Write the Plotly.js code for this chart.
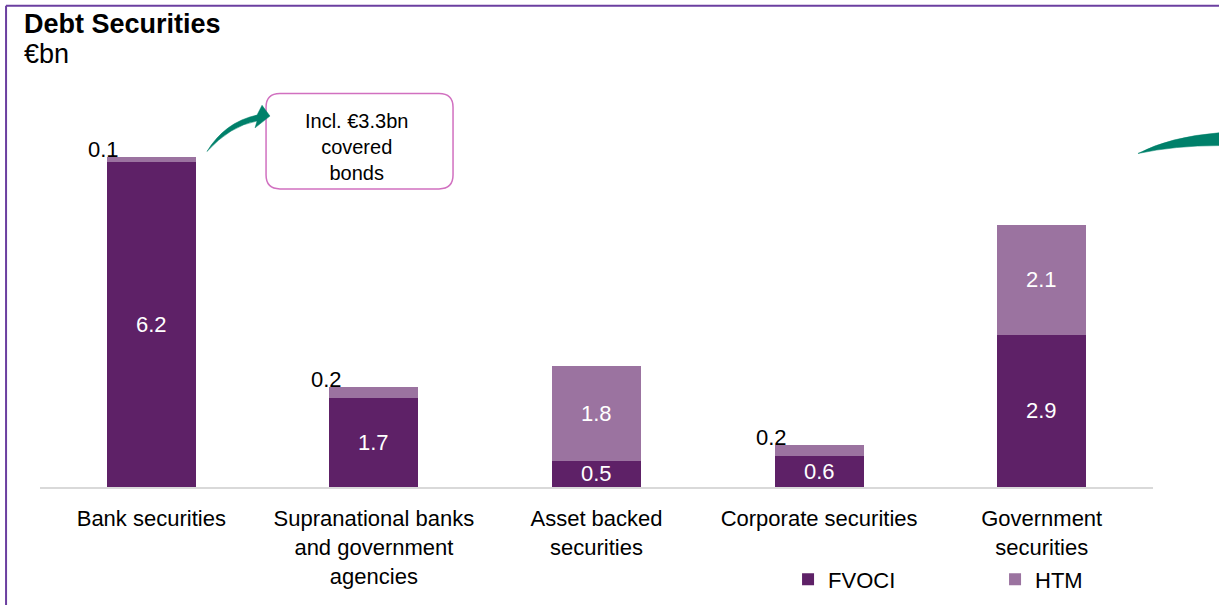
<!DOCTYPE html>
<html><head><meta charset="utf-8">
<script src="https://cdn.plot.ly/plotly-3.0.1.min.js"></script>
<style>html,body{margin:0;padding:0;background:#fff}#chart{width:1219px;height:613px}</style>
</head><body><div id="chart"></div>
<script>
const categories = ["Bank securities", "Supranational banks<br>and government<br>agencies", "Asset backed<br>securities", "Corporate securities", "Government<br>securities"];
const fvoci = [6.2, 1.7, 0.5, 0.6, 2.9];
const htm = [0.1, 0.2, 1.8, 0.2, 2.1];
const seriesNames = ["FVOCI", "HTM"];
const calloutText = "Incl. €3.3bn<br>covered<br>bonds";

const W = 1219, H = 613;
const M = {l: 40, r: 1219 - 1153, t: 120, b: 120};
const PW = W - M.l - M.r, PH = H - M.t - M.b;
const px = x => ((x - M.l) / PW).toFixed(4);
const py = y => ((H - M.b - y) / PH).toFixed(4);
const P = (x, y) => px(x) + ',' + py(y);

const idx = categories.map((_, i) => i);
const cFV = '#5e2167', cHT = '#9b73a0';
const FAM = 'Liberation Sans, Arial, sans-serif';
const font = {family: FAM, size: 22, color: '#000'};

const traces = [
  {type: 'bar', name: seriesNames[0], x: idx, y: fvoci, marker: {color: cFV}, width: 0.4, hoverinfo: 'none'},
  {type: 'bar', name: seriesNames[1], x: idx, y: htm, marker: {color: cHT}, width: 0.4, hoverinfo: 'none'}
];

const ann = [];
idx.forEach(i => {
  ann.push({x: i, y: fvoci[i] / 2, xref: 'x', yref: 'y', text: fvoci[i].toFixed(1), showarrow: false,
    font: Object.assign({}, font, {color: '#fff'})});
  if (htm[i] >= 1) {
    ann.push({x: i, y: fvoci[i] + htm[i] / 2, xref: 'x', yref: 'y', text: htm[i].toFixed(1), showarrow: false,
      font: Object.assign({}, font, {color: '#fff'})});
  } else {
    ann.push({x: i - 0.2, y: fvoci[i] + htm[i], xref: 'x', yref: 'y', text: htm[i].toFixed(1), showarrow: false,
      xanchor: 'center', yanchor: 'bottom', xshift: -3, yshift: -7, font: font});
  }
});
ann.push({xref: 'paper', yref: 'paper', x: px(22), y: py(22), xanchor: 'left', yanchor: 'middle', showarrow: false,
  text: '<b>Debt Securities</b>', font: {family: FAM, size: 27, color: '#000'}});
ann.push({xref: 'paper', yref: 'paper', x: px(22), y: py(53), xanchor: 'left', yanchor: 'middle', showarrow: false,
  text: '€bn', font: {family: FAM, size: 27, color: '#000'}});
ann.push({xref: 'paper', yref: 'paper', x: px(357), y: py(147), xanchor: 'center', yanchor: 'middle', showarrow: false,
  text: calloutText, font: {family: FAM, size: 20, color: '#000'}});

// rounded callout box
const bx0 = 266, bx1 = 453, by0 = 93, by1 = 190, r = 14;
const box = 'M' + P(bx0 + r, by0) + ' L' + P(bx1 - r, by0) + ' Q' + P(bx1, by0) + ' ' + P(bx1, by0 + r) +
  ' L' + P(bx1, by1 - r) + ' Q' + P(bx1, by1) + ' ' + P(bx1 - r, by1) + ' L' + P(bx0 + r, by1) +
  ' Q' + P(bx0, by1) + ' ' + P(bx0, by1 - r) + ' L' + P(bx0, by0 + r) + ' Q' + P(bx0, by0) + ' ' + P(bx0 + r, by0) + ' Z';
const arrow1 = 'M' + P(207, 152) + ' Q' + P(225, 122) + ' ' + P(257, 115) + ' L' + P(262, 105) + ' L' + P(270, 116) +
  ' L' + P(255, 128) + ' L' + P(257, 121) + ' Q' + P(230, 126) + ' ' + P(207, 152) + ' Z';
const arrow2 = 'M' + P(1138, 154) + ' Q' + P(1170, 137) + ' ' + P(1219, 133) + ' L' + P(1219, 146) + ' Q' + P(1175, 146) + ' ' + P(1138, 154) + ' Z';

const shapes = [
  {type: 'path', xref: 'paper', yref: 'paper', path: box, line: {color: '#d170c0', width: 1.5}, fillcolor: '#fff'},
  {type: 'path', xref: 'paper', yref: 'paper', path: arrow1, line: {color: '#00806a', width: 0.5}, fillcolor: '#00806a'},
  {type: 'path', xref: 'paper', yref: 'paper', path: arrow2, line: {color: '#00806a', width: 0.5}, fillcolor: '#00806a'},
  {type: 'line', xref: 'paper', yref: 'paper', x0: px(6), x1: px(1219), y0: py(4), y1: py(4), line: {color: '#6b3fa0', width: 2}},
  {type: 'line', xref: 'paper', yref: 'paper', x0: px(6), x1: px(6), y0: py(4), y1: py(613), line: {color: '#6b3fa0', width: 2}}
];

const layout = {
  width: W, height: H, margin: M, paper_bgcolor: '#fff', plot_bgcolor: '#fff',
  barmode: 'stack', showlegend: true,
  font: font,
  xaxis: {range: [-0.5, 4.5], tickvals: idx, ticktext: categories, showgrid: false, zeroline: false,
    showline: true, linecolor: '#d9d9d9', linewidth: 2, ticks: '', tickfont: font, ticklabelstandoff: 11, fixedrange: true},
  yaxis: {range: [0, 7], showgrid: false, zeroline: false, showticklabels: false, showline: false, fixedrange: true},
  legend: {orientation: 'h', x: px(788), y: py(587), xanchor: 'left', yanchor: 'middle', font: font,
    entrywidth: 162, entrywidthmode: 'pixels', itemwidth: 30, traceorder: 'normal'},
  annotations: ann, shapes: shapes
};
Plotly.newPlot('chart', traces, layout, {displayModeBar: false, staticPlot: true});
</script></body></html>
